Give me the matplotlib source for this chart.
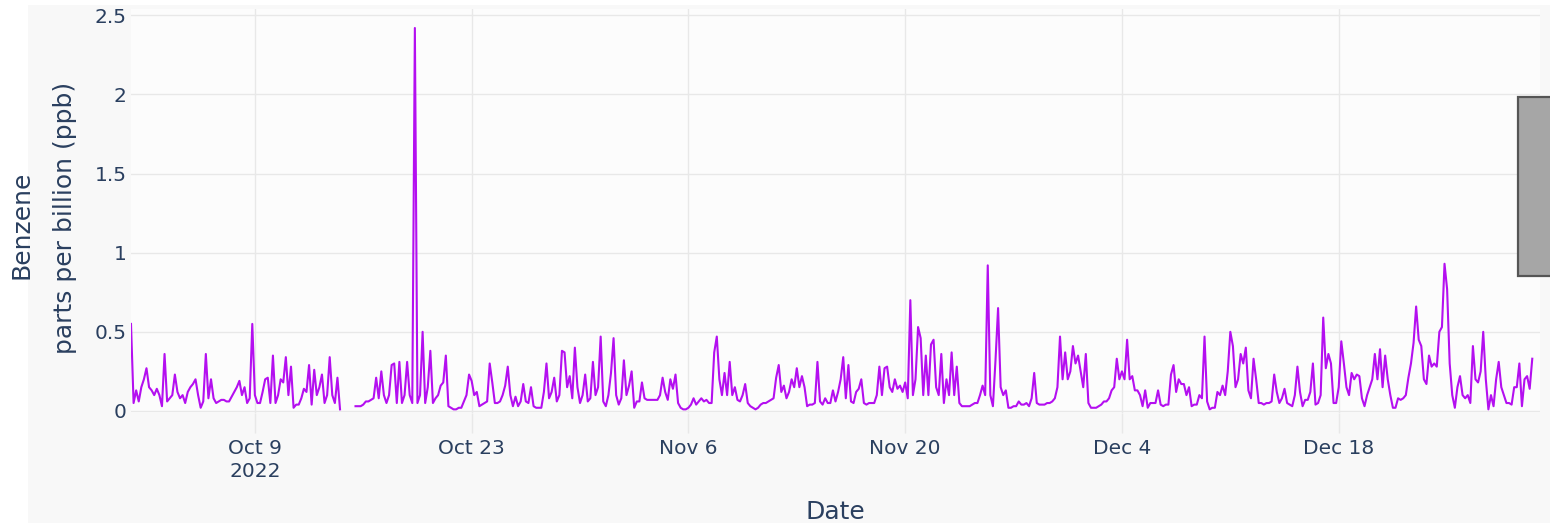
import numpy as np
import pandas as pd
import matplotlib
matplotlib.use("Agg")
import matplotlib.pyplot as plt
from matplotlib.patches import Rectangle

nan = np.nan

# 4-hourly benzene readings (ppb), 6 values per day, starting 2022-10-01 00:00
oct_values = [
    0.55, 0.05, 0.13, 0.06, 0.15, 0.20,
    0.27, 0.15, 0.13, 0.10, 0.14, 0.10,
    0.03, 0.36, 0.06, 0.08, 0.10, 0.23,
    0.12, 0.08, 0.10, 0.05, 0.12, 0.15,
    0.17, 0.20, 0.10, 0.02, 0.06, 0.36,
    0.08, 0.20, 0.08, 0.05, 0.06, 0.07,
    0.07, 0.06, 0.06, 0.09, 0.12, 0.15,
    0.19, 0.10, 0.15, 0.05, 0.08, 0.55,
    0.10, 0.05, 0.05, 0.12, 0.20, 0.21,
    0.05, 0.35, 0.05, 0.10, 0.20, 0.18,
    0.34, 0.10, 0.28, 0.02, 0.04, 0.04,
    0.08, 0.14, 0.12, 0.29, 0.04, 0.26,
    0.10, 0.15, 0.23, 0.05, 0.10, 0.34,
    0.10, 0.05, 0.21, 0.01, nan, nan,
    nan, nan, nan, 0.03, 0.03, 0.03,
    0.04, 0.06, 0.06, 0.07, 0.08, 0.21,
    0.08, 0.25, 0.10, 0.05, 0.10, 0.29,
    0.30, 0.05, 0.31, 0.05, 0.10, 0.31,
    0.10, 0.05, 2.42, 0.05, 0.10, 0.50,
    0.05, 0.15, 0.38, 0.05, 0.08, 0.10,
    0.16, 0.18, 0.35, 0.03, 0.02, 0.01,
    0.01, 0.02, 0.02, 0.06, 0.10, 0.23,
    0.19, 0.10, 0.12, 0.03, 0.04, 0.05,
    0.06, 0.30, 0.18, 0.05, 0.05, 0.06,
    0.10, 0.16, 0.28, 0.10, 0.03, 0.09,
    0.03, 0.06, 0.17, 0.06, 0.05, 0.15,
    0.03, 0.02, 0.02, 0.02, 0.12, 0.30,
    0.08, 0.12, 0.21, 0.06, 0.10, 0.38,
    0.37, 0.15, 0.22, 0.08, 0.40, 0.15,
    0.05, 0.10, 0.23, 0.06, 0.08, 0.31,
    0.10, 0.15, 0.47, 0.06, 0.03, 0.10,
]
nov_values = [
    0.24, 0.46, 0.10, 0.04, 0.08, 0.32,
    0.10, 0.16, 0.25, 0.02, 0.06, 0.06,
    0.18, 0.08, 0.07, 0.07, 0.07, 0.07,
    0.07, 0.10, 0.21, 0.12, 0.07, 0.20,
    0.14, 0.23, 0.05, 0.02, 0.01, 0.01,
    0.02, 0.04, 0.08, 0.04, 0.06, 0.08,
    0.06, 0.07, 0.05, 0.05, 0.37, 0.47,
    0.20, 0.10, 0.24, 0.10, 0.31, 0.10,
    0.15, 0.07, 0.06, 0.10, 0.17, 0.05,
    0.03, 0.02, 0.01, 0.02, 0.04, 0.05,
    0.05, 0.06, 0.07, 0.08, 0.21, 0.29,
    0.12, 0.16, 0.08, 0.12, 0.20, 0.15,
    0.27, 0.15, 0.22, 0.15, 0.03, 0.04,
    0.04, 0.05, 0.31, 0.06, 0.04, 0.08,
    0.05, 0.05, 0.13, 0.06, 0.12, 0.20,
    0.34, 0.08, 0.29, 0.06, 0.05, 0.12,
    0.14, 0.20, 0.05, 0.04, 0.05, 0.05,
    0.05, 0.10, 0.28, 0.10, 0.27, 0.28,
    0.15, 0.12, 0.20, 0.14, 0.16, 0.12,
    0.18, 0.08, 0.70, 0.10, 0.20, 0.53,
    0.46, 0.10, 0.35, 0.10, 0.42, 0.45,
    0.15, 0.10, 0.36, 0.05, 0.20, 0.10,
    0.37, 0.10, 0.28, 0.05, 0.03, 0.03,
    0.03, 0.03, 0.04, 0.05, 0.05, 0.10,
    0.16, 0.10, 0.92, 0.10, 0.03, 0.32,
    0.65, 0.15, 0.10, 0.13, 0.02, 0.02,
    0.03, 0.03, 0.06, 0.04, 0.04, 0.05,
    0.03, 0.08, 0.24, 0.05, 0.04, 0.04,
    0.04, 0.05, 0.05, 0.06, 0.08, 0.15,
    0.47, 0.20, 0.37, 0.20, 0.25, 0.41,
]
dec_values = [
    0.30, 0.35, 0.25, 0.15, 0.36, 0.05,
    0.02, 0.02, 0.02, 0.03, 0.04, 0.06,
    0.06, 0.08, 0.13, 0.15, 0.33, 0.20,
    0.25, 0.20, 0.45, 0.20, 0.22, 0.13,
    0.13, 0.10, 0.03, 0.13, 0.02, 0.05,
    0.05, 0.05, 0.13, 0.04, 0.03, 0.04,
    0.04, 0.23, 0.29, 0.12, 0.20, 0.17,
    0.17, 0.10, 0.15, 0.03, 0.04, 0.04,
    0.10, 0.08, 0.47, 0.06, 0.01, 0.02,
    0.02, 0.12, 0.10, 0.16, 0.10, 0.25,
    0.50, 0.41, 0.15, 0.20, 0.36, 0.30,
    0.40, 0.13, 0.08, 0.33, 0.20, 0.05,
    0.05, 0.04, 0.05, 0.05, 0.06, 0.23,
    0.12, 0.05, 0.08, 0.14, 0.05, 0.04,
    0.03, 0.10, 0.28, 0.12, 0.03, 0.07,
    0.07, 0.12, 0.30, 0.04, 0.05, 0.10,
    0.59, 0.27, 0.36, 0.30, 0.05, 0.05,
    0.15, 0.44, 0.30, 0.15, 0.10, 0.24,
    0.20, 0.23, 0.22, 0.08, 0.03, 0.10,
    0.15, 0.20, 0.36, 0.20, 0.39, 0.15,
    0.35, 0.20, 0.10, 0.02, 0.02, 0.08,
    0.07, 0.08, 0.10, 0.21, 0.30, 0.43,
    0.66, 0.45, 0.41, 0.20, 0.17, 0.35,
    0.28, 0.30, 0.28, 0.50, 0.53, 0.93,
    0.77, 0.30, 0.10, 0.02, 0.15, 0.22,
    0.10, 0.08, 0.10, 0.05, 0.41, 0.20,
    0.18, 0.25, 0.50, 0.20, 0.01, 0.10,
    0.03, 0.20, 0.31, 0.15, 0.10, 0.05,
    0.05, 0.04, 0.15, 0.15, 0.30, 0.03,
    0.20, 0.22, 0.14, 0.33,
]

tick_dates = ["2022-10-09", "2022-10-23", "2022-11-06", "2022-11-20", "2022-12-04", "2022-12-18"]
tick_labels = ["Oct 9\n2022", "Oct 23", "Nov 6", "Nov 20", "Dec 4", "Dec 18"]
y_ticks = [0, 0.5, 1, 1.5, 2, 2.5]
y_tick_labels = ["0", "0.5", "1", "1.5", "2", "2.5"]

values = np.array(oct_values + nov_values + dec_values, dtype=float)
times = pd.date_range("2022-10-01 00:00", periods=len(values), freq="4h")

TEXT = "#2a3f5f"
GRID = "#e8e8e8"
W, H = 1550, 523
fig = plt.figure(figsize=(W / 100, H / 100), dpi=100, facecolor="white")
bg = Rectangle((28 / W, 0), 1 - 28 / W, (H - 5) / H, transform=fig.transFigure,
               facecolor="#f8f8f8", edgecolor="none", zorder=-10)
fig.add_artist(bg)

ax = fig.add_axes([131 / W, (H - 413) / H, (1540 - 131) / W, (413 - 9) / H])
ax.set_zorder(1)
ax.set_facecolor("#fcfcfc")
ax.plot(times, values, color="#b40ff0", lw=1.5, solid_joinstyle="round")

ax.set_xlim(pd.Timestamp("2022-10-01"), pd.Timestamp("2022-12-31"))
ax.set_ylim(-0.013, 2.54)
ax.set_xticks(pd.to_datetime(tick_dates))
ax.set_xticklabels(tick_labels)
ax.set_yticks(y_ticks)
ax.set_yticklabels(y_tick_labels)
ax.grid(True, color=GRID, lw=1)
ax.set_axisbelow(True)
for s in ax.spines.values():
    s.set_visible(False)
ax.tick_params(axis="x", length=14.5, width=1, color=GRID, pad=4, labelsize=14.5, labelcolor=TEXT)
ax.tick_params(axis="y", length=0, pad=3, labelsize=14.5, labelcolor=TEXT)
for lab in ax.get_xticklabels():
    lab.set_linespacing(1.3)

fig.text(835 / W, 1 - 512 / H, "Date", ha="center", va="center", fontsize=18, color=TEXT, zorder=2)
fig.text(22 / W, 1 - 225 / H, "Benzene", ha="center", va="center", rotation=90, fontsize=18,
         color=TEXT, zorder=2)
fig.text(65 / W, 1 - 218 / H, "parts per billion (ppb)", ha="center", va="center", rotation=90,
         fontsize=18, color=TEXT, zorder=2)

box = Rectangle((1518 / W, 1 - 276 / H), 40 / W, 179 / H, transform=fig.transFigure,
                facecolor="#a6a6a6", edgecolor="#555555", lw=1.6, zorder=5)
fig.add_artist(box)

fig.savefig("out.png", dpi=100, facecolor=fig.get_facecolor())
